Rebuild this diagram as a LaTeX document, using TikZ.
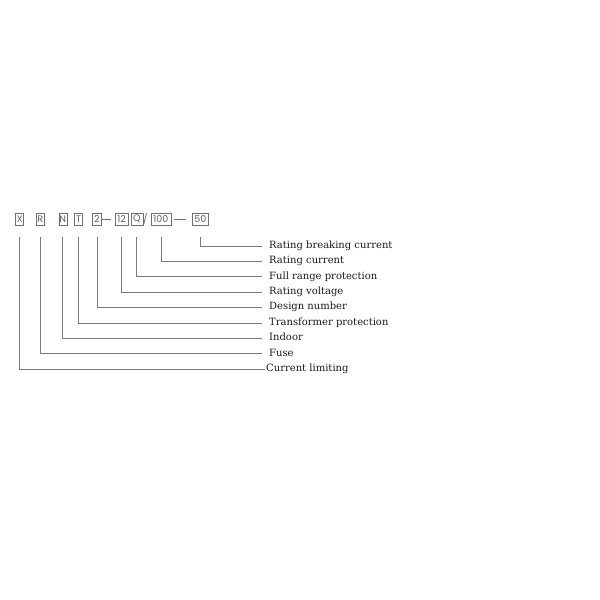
\documentclass[tikz,border=0pt]{standalone}
\usepackage{fontspec}
\setmainfont{DejaVu Serif}
\newfontfamily\boxfont{Poppins}
\definecolor{boxgray}{HTML}{707070}
\definecolor{boxtext}{HTML}{606060}
\definecolor{linegray}{HTML}{7A7A7A}
\definecolor{labtext}{HTML}{1A1A1A}
\begin{document}
\begin{tikzpicture}[x=1pt,y=-1pt,
  codebox/.style={draw=boxgray, line width=0.6pt, text=boxtext,
    font=\boxfont\fontsize{9.5}{9.5}\selectfont, inner sep=0pt,
    minimum height=11.5pt, anchor=center},
  leader/.style={draw=linegray, line width=0.7pt},
  sep/.style={draw=boxgray, line width=0.6pt},
  lab/.style={anchor=base west, inner sep=0pt,
    font=\fontsize{10}{12}\selectfont, text=labtext}]
\useasboundingbox (0,0) rectangle (600,600);

% code boxes
\node[codebox, minimum width=8pt]  (bX)   at (19.7,219.2)  {X};
\node[codebox, minimum width=8pt]  (bR)   at (40.3,219.2)  {R};
\node[codebox, minimum width=8pt]  (bN)   at (62.8,219.2)  {N};
\node[codebox, minimum width=8pt]  (bT)   at (78.7,219.2)  {T};
\node[codebox, minimum width=9.5pt] (b2)  at (96.9,219.2)  {2};
\node[codebox, minimum width=13pt] (b12)  at (121.6,219.2) {12};
\node[codebox, minimum width=12pt] (bQ)   at (136.8,219.2) {Q};
\node[text=boxtext, font=\boxfont\fontsize{9.5}{9.5}\selectfont, inner sep=0pt] (sl) at (145.5,219.2) {/};
\node[codebox, minimum width=20pt] (b100) at (160.9,219.2) {100};
\node[codebox, minimum width=16pt] (b50)  at (200.3,219.2) {50};

% dashes between boxes
\draw[sep] ([xshift=0.5pt]b2.east) -- ([xshift=-4pt]b12.west);
\draw[sep] ([xshift=3pt]b100.east) -- ([xshift=-6pt]b50.west);

% labels
\node[lab] (l50)   at (269,248.3) {Rating breaking current};
\node[lab] (l100)  at (269,263.7) {Rating current};
\node[lab] (lQ)    at (269,279.1) {Full range protection};
\node[lab] (l12)   at (269,294.5) {Rating voltage};
\node[lab] (l2)    at (269,309.9) {Design number};
\node[lab] (lT)    at (269,325.3) {Transformer protection};
\node[lab] (lN)    at (269,340.7) {Indoor};
\node[lab] (lR)    at (269,356.1) {Fuse};
\node[lab] (lX)    at (266,371.5) {Current limiting};

% leader ends
\coordinate (e50)  at (262,246.0);
\coordinate (e100) at (262,261.4);
\coordinate (eQ)   at (262,276.8);
\coordinate (e12)  at (262,292.2);
\coordinate (e2)   at (262,307.6);
\coordinate (eT)   at (262,323.0);
\coordinate (eN)   at (262,338.4);
\coordinate (eR)   at (262,353.8);
\coordinate (eX)   at (265,369.2);

% leaders
\draw[leader] ([yshift=-12pt]b50.south)  |- (e50);
\draw[leader] ([yshift=-12pt]b100.south) |- (e100);
\draw[leader] ([yshift=-12pt]bQ.south)   |- (eQ);
\draw[leader] ([yshift=-12pt]b12.south)  |- (e12);
\draw[leader] ([yshift=-12pt]b2.south)   |- (e2);
\draw[leader] ([yshift=-12pt]bT.south)   |- (eT);
\draw[leader] ([yshift=-12pt]bN.south)   |- (eN);
\draw[leader] ([yshift=-12pt]bR.south)   |- (eR);
\draw[leader] ([yshift=-12pt]bX.south)   |- (eX);
\end{tikzpicture}
\end{document}
